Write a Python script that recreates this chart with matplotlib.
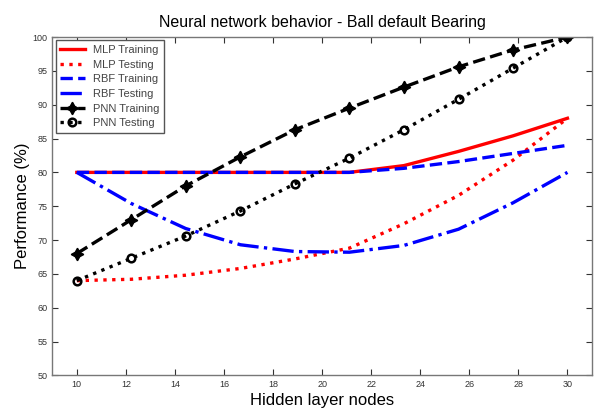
import matplotlib
matplotlib.use('Agg')
import matplotlib.pyplot as plt
import numpy as np

# ── Data ──────────────────────────────────────────────────────────────────────
nodes = [10, 12.22, 14.44, 16.67, 18.89, 21.11, 23.33, 25.56, 27.78, 30]

mlp_train = [80, 80, 80, 80, 80, 80, 81.0, 83.1, 85.4, 88]
mlp_test  = [64, 64.2, 64.8, 65.8, 67.2, 68.8, 72.4, 76.6, 81.8, 88]
rbf_train = [80, 80, 80, 80, 80, 80, 80.6, 81.6, 82.8, 84]
rbf_test  = [80, 75.4, 71.7, 69.3, 68.3, 68.2, 69.2, 71.6, 75.5, 80]
pnn_train = [68, 73, 78, 82.3, 86.3, 89.5, 92.6, 95.6, 98.1, 100]
pnn_test  = [64, 67.3, 70.6, 74.3, 78.3, 82.1, 86.3, 90.8, 95.4, 100]

x_ticks = [10, 12, 14, 16, 18, 20, 22, 24, 26, 28, 30]
y_ticks = [50, 55, 60, 65, 70, 75, 80, 85, 90, 95, 100]

plt.rcParams['font.family'] = ['Liberation Sans', 'DejaVu Sans']

fig = plt.figure(figsize=(6.01, 4.12), dpi=100)
ax = fig.add_axes([0.087, 0.089, 0.898, 0.821])

ax.plot(nodes, mlp_train, color='red', linestyle='-', lw=2.4, label='MLP Training')
ax.plot(nodes, mlp_test, color='red', linestyle=':', lw=2.4, label='MLP Testing')
ax.plot(nodes, rbf_train, color='blue', linestyle='--', lw=2.4, label='RBF Training')
ax.plot(nodes, rbf_test, color='blue', linestyle='-.', lw=2.4, label='RBF Testing')
ax.plot(nodes, pnn_train, color='black', linestyle='--', lw=2.4,
        marker=(4, 1, 0), markersize=9, markerfacecolor='black', label='PNN Training')
ax.plot(nodes, pnn_test, color='black', linestyle=':', lw=2.4,
        marker='o', markersize=5.5, markerfacecolor='none', markeredgewidth=1.8,
        label='PNN Testing')

ax.set_xlim(9, 31)
ax.set_ylim(50, 100)
ax.set_xticks(x_ticks)
ax.set_yticks(y_ticks)
ax.tick_params(direction='in', top=True, right=True, length=4, labelsize=6.5,
               colors='#333333')
for s in ax.spines.values():
    s.set_color('#777777')
    s.set_linewidth(1.0)

ax.set_title('Neural network behavior - Ball default Bearing', fontsize=11.5, pad=7)
ax.set_xlabel('Hidden layer nodes', fontsize=12, labelpad=3)
ax.set_ylabel('Performance (%)', fontsize=12, labelpad=2)

leg = ax.legend(loc='upper left', fontsize=8, handlelength=2.2, borderpad=0.4,
                labelspacing=0.42, handletextpad=0.8, fancybox=False,
                framealpha=1, borderaxespad=0.3)
leg.get_frame().set_edgecolor('#555555')
for t in leg.get_texts():
    t.set_color('#444444')

fig.savefig('out.png', dpi=100)
